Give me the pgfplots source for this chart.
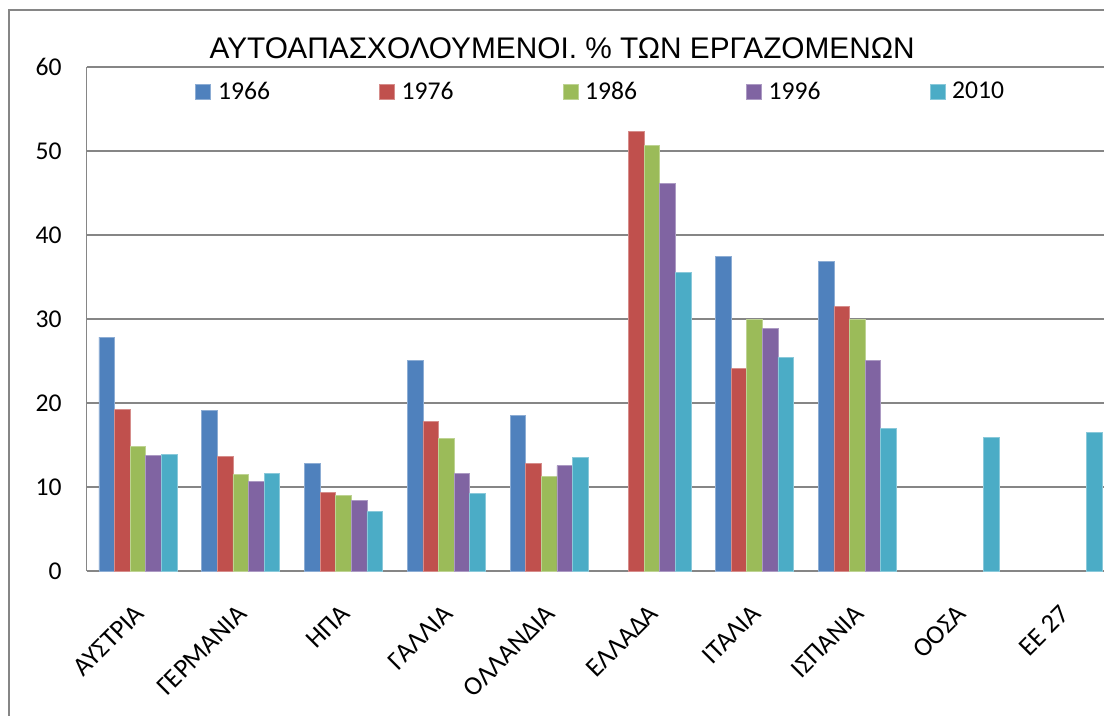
\documentclass[border=0pt]{standalone}
\usepackage{fontspec}
\setmainfont{Carlito}
\newfontfamily\titlefont{Liberation Sans}
\usepackage{pgfplots}
\pgfplotsset{compat=1.18}
\definecolor{cA}{HTML}{4F81BD}
\definecolor{cB}{HTML}{C0504D}
\definecolor{cC}{HTML}{9BBB59}
\definecolor{cD}{HTML}{8064A2}
\definecolor{cE}{HTML}{4BACC6}
\definecolor{gridgray}{HTML}{868686}
\begin{document}
\begin{tikzpicture}
\useasboundingbox (-43.3pt,-72pt) rectangle (508.6pt,285.5pt);
\clip (-43.3pt,-72pt) rectangle (508.6pt,285.5pt);
\draw[gridgray, line width=0.8pt] (-38.8pt,-80pt) -- (-38.8pt,280.5pt) -- (520pt,280.5pt);
\node[font=\titlefont\fontsize{14.9}{17}\selectfont, anchor=base] at (237.7pt,256.4pt) {ΑΥΤΟΑΠΑΣΧΟΛΟΥΜΕΝΟΙ. \% ΤΩΝ ΕΡΓΑΖΟΜΕΝΩΝ};
\begin{axis}[
  at={(0pt,0pt)}, anchor=south west,
  scale only axis, width=508.6pt, height=252pt,
  xmin=-0.5, xmax=9.4, ymin=0, ymax=60,
  ybar=0pt, bar width=7.8pt,
  ytick={0,10,...,60},
  xtick={0,...,9},
  xticklabels={ΑΥΣΤΡΙΑ,ΓΕΡΜΑΝΙΑ,ΗΠΑ,ΓΑΛΛΙΑ,ΟΛΛΑΝΔΙΑ,ΕΛΛΑΔΑ,ΙΤΑΛΙΑ,ΙΣΠΑΝΙΑ,ΟΟΣΑ,ΕΕ 27},
  axis x line=bottom, axis y line=left,
  x axis line style={draw=gridgray, line width=1.2pt, -},
  y axis line style={draw=gridgray, line width=0.8pt, -},
  major tick length=0pt,
  ymajorgrids, grid style={draw=gridgray, line width=0.9pt},
  /pgf/number format/assume math mode=true,
  tick label style={font=\fontsize{12.8}{15}\selectfont},
  yticklabel style={anchor=east, inner sep=0pt, xshift=-12.3pt},
  xticklabel style={font=\fontsize{13.3}{15}\selectfont, inner sep=0pt, xshift=1pt, yshift=-19pt, rotate=45, anchor=east},
  legend columns=5,
  legend style={draw=none, fill=none, at={(0.1066,0.9504)}, anchor=west, inner sep=0pt,
    font=\fontsize{12.8}{15}\selectfont,
    nodes={inner sep=0pt},
    /tikz/every odd column/.append style={column sep=3.5pt},
    /tikz/every even column/.append style={column sep=54.5pt}},
  legend cell align=left,
  legend image code/.code={\fill[#1] (0pt,-3.75pt) rectangle (7.5pt,3.75pt);},
]
\addplot[fill=cA, draw=cA!65!white, line width=0.3pt] coordinates {(0,27.86) (1,19.17) (2,12.78) (3,25.1) (4,18.57) (6,37.46) (7,36.87)};
\addplot[fill=cB, draw=cB!65!white, line width=0.3pt] coordinates {(0,19.25) (1,13.61) (2,9.37) (3,17.82) (4,12.78) (5,52.38) (6,24.13) (7,31.51)};
\addplot[fill=cC, draw=cC!65!white, line width=0.3pt] coordinates {(0,14.84) (1,11.55) (2,8.97) (3,15.79) (4,11.31) (5,50.71) (6,29.96) (7,29.96)};
\addplot[fill=cD, draw=cD!65!white, line width=0.3pt] coordinates {(0,13.77) (1,10.64) (2,8.45) (3,11.63) (4,12.54) (5,46.15) (6,28.89) (7,25.04)};
\addplot[fill=cE, draw=cE!65!white, line width=0.3pt] coordinates {(0,13.85) (1,11.63) (2,7.06) (3,9.29) (4,13.53) (5,35.52) (6,25.48) (7,16.94) (8,15.95) (9,16.5)};
\legend{1966,1976,1986,1996,2010}
\end{axis}
\end{tikzpicture}
\end{document}
